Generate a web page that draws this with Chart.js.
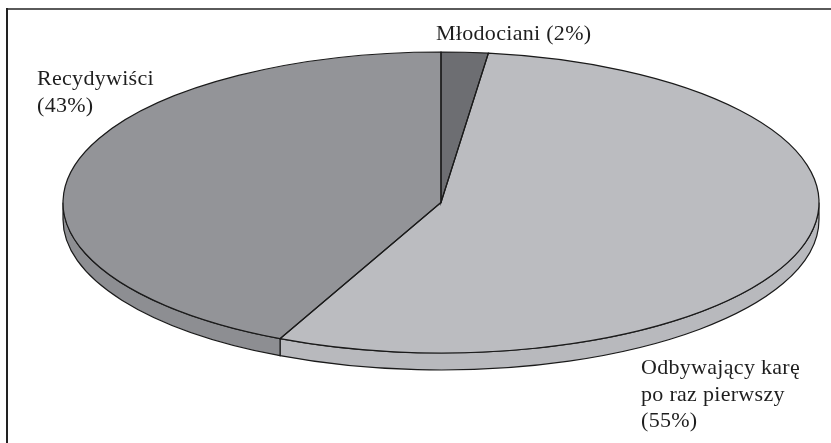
<!DOCTYPE html>
<html>
<head>
<meta charset="utf-8">
<script src="https://cdn.jsdelivr.net/npm/chart.js@4"></script>
<style>
  html, body { margin: 0; padding: 0; background: #fff; }
  #wrap { width: 831px; height: 443px; position: relative; }
</style>
</head>
<body>
<div id="wrap"><canvas id="pie"></canvas></div>
<script>
// data (clockwise from 12 o'clock)
const categories = ['Młodociani', 'Odbywający karę\npo raz pierwszy', 'Recydywiści'];
const shares = [2, 55, 43];
const topColors = ['#6d6e72', '#bbbcc0', '#939498'];
const sideColors = ['#66676b', '#b8b9bd', '#8d8e92'];

// ellipse geometry for the tilted look
const RX = 378, RY = 150.5, DEPTH = 17;
const LINE = '#1a1a1a';

function labelLines(i) {
  const lines = categories[i].split('\n');
  const pct = '(' + shares[i] + '%)';
  if (i === 0) return [lines[0] + ' ' + pct];
  return lines.concat([pct]);
}

const labelPos = [
  { x: 436, y: 40 },
  { x: 641, y: 374 },
  { x: 37, y: 85 }
];

const tilt3d = {
  id: 'tilt3d',
  beforeDraw(chart) {
    const ctx = chart.ctx;
    ctx.save();
    ctx.fillStyle = '#5a5a5a';
    ctx.fillRect(6, 8, 825, 2);
    ctx.fillStyle = '#222';
    ctx.fillRect(6, 8, 2, 435);
    ctx.restore();
  },
  beforeDatasetsDraw(chart) {
    const ctx = chart.ctx;
    const arcs = chart.getDatasetMeta(0).data;
    const cx = arcs[0].x, cy = arcs[0].y;
    // side wall, only the front half (0..PI) is visible
    ctx.save();
    ctx.lineWidth = 1.2;
    ctx.strokeStyle = LINE;
    arcs.forEach((a, i) => {
      const a1 = Math.max(a.startAngle, 0);
      const a2 = Math.min(a.endAngle, Math.PI);
      if (a2 <= a1) return;
      ctx.beginPath();
      ctx.ellipse(cx, cy, RX, RY, 0, a1, a2);
      ctx.ellipse(cx, cy + DEPTH, RX, RY, 0, a2, a1, true);
      ctx.closePath();
      ctx.fillStyle = sideColors[i];
      ctx.fill();
      ctx.stroke();
    });
    ctx.restore();
    // stretch the round pie into an ellipse
    ctx.save();
    ctx.translate(cx, cy);
    ctx.scale(RX / RY, 1);
    ctx.translate(-cx, -cy);
  },
  afterDatasetsDraw(chart) {
    const ctx = chart.ctx;
    ctx.restore();
    const arcs = chart.getDatasetMeta(0).data;
    const cx = arcs[0].x, cy = arcs[0].y;
    ctx.save();
    ctx.lineWidth = 1.2;
    ctx.strokeStyle = LINE;
    arcs.forEach(a => {
      ctx.beginPath();
      ctx.moveTo(cx, cy);
      ctx.ellipse(cx, cy, RX, RY, 0, a.startAngle, a.endAngle);
      ctx.closePath();
      ctx.stroke();
    });
    ctx.restore();
  },
  afterDraw(chart) {
    const ctx = chart.ctx;
    ctx.save();
    ctx.fillStyle = '#1e1e1e';
    ctx.font = '22px "Liberation Serif", "Times New Roman", serif';
    ctx.letterSpacing = '0.3px';
    ctx.textBaseline = 'alphabetic';
    ctx.textAlign = 'left';
    labelPos.forEach((p, i) => {
      labelLines(i).forEach((t, k) => ctx.fillText(t, p.x, p.y + k * 26.5));
    });
    ctx.restore();
  }
};

new Chart(document.getElementById('pie'), {
  type: 'pie',
  data: {
    labels: categories,
    datasets: [{
      data: shares,
      backgroundColor: topColors,
      borderWidth: 0,
      radius: RY,
      clip: false
    }]
  },
  options: {
    responsive: true,
    maintainAspectRatio: false,
    animation: false,
    events: [],
    layout: { padding: { top: 52, bottom: 90, left: 100, right: 49 } },
    plugins: { legend: { display: false }, tooltip: { enabled: false } }
  },
  plugins: [tilt3d]
});
</script>
</body>
</html>
